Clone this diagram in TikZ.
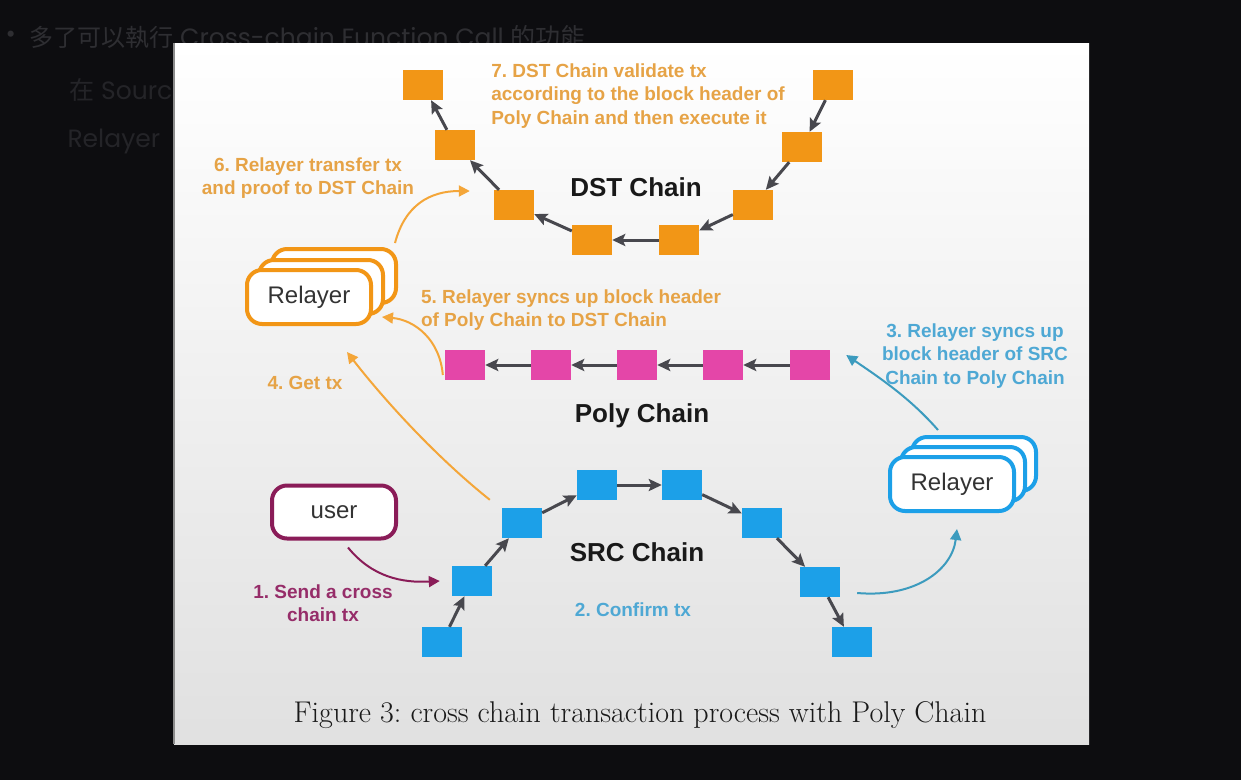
\documentclass[tikz,border=0pt]{standalone}
\usepackage{fontspec}
\newfontfamily\arial{Liberation Sans}
\newfontfamily\slidefont{Poppins}
\newfontfamily\cjk{Noto Sans CJK TC}
\usetikzlibrary{arrows.meta}
\frenchspacing
\begin{document}
\begin{tikzpicture}[x=1pt, y=-1pt, >={Stealth[length=13pt, width=12pt, inset=2.5pt]}]
    % Define Colors matching the screenshot
    \definecolor{slidebg}{RGB}{13, 13, 16}
    \definecolor{slidetext}{RGB}{46, 46, 50}
    \definecolor{slidetextdim}{RGB}{36, 36, 40}
    \definecolor{dstcolor}{RGB}{242, 150, 22}   % Orange blocks
    \definecolor{dsttext}{RGB}{230, 163, 70}    % Orange notes
    \definecolor{polycolor}{RGB}{228, 70, 168}  % Pink blocks
    \definecolor{srccolor}{RGB}{28, 160, 232}   % Blue blocks
    \definecolor{srctext}{RGB}{78, 168, 212}    % Blue notes
    \definecolor{srcarrow}{RGB}{60, 155, 190}
    \definecolor{usercolor}{RGB}{138, 28, 88}   % Purple
    \definecolor{usertext}{RGB}{150, 45, 105}
    \definecolor{linkcolor}{RGB}{72, 72, 78}

    \tikzset{
        block/.style={rectangle, minimum width=40pt, minimum height=30pt, inner sep=0pt},
        link/.style={->, linkcolor, line width=3pt},
        flow/.style={-{Triangle[length=11pt, width=11pt]}, line width=2pt},
        relaybox/.style={rectangle, rounded corners=15pt, line width=4pt, fill=white,
            minimum width=124pt, minimum height=54pt, text=black!80,
            font=\arial\fontsize{24}{28}\selectfont},
        chaintitle/.style={font=\arial\bfseries\fontsize{26}{30}\selectfont, text=black!90},
        stepnote/.style={font=\arial\bfseries\fontsize{19}{23.5}\selectfont},
        slideline/.style={anchor=west, font=\slidefont\fontsize{25}{28}\selectfont}
    }

    \useasboundingbox (0,0) rectangle (1241,780);

    % Slide background and text behind the figure
    \fill[slidebg] (0,0) rectangle (1241,780);
    \node[slideline, text=slidetext] (bullet) at (2,37) {•};
    \node[slideline, text=slidetext] (line1) at (26,37)
        {{\cjk\fontsize{24}{28}\selectfont 多了可以執行} Cross-chain Function Call {\cjk 的功能}};
    \node[slideline, text=slidetextdim] (line2) at (66,90) {{\cjk 在} Source};
    \node[slideline, text=slidetextdim] (line3) at (64,141) {Relayer};

    % Figure panel
    \shade[top color=white, middle color=white, bottom color=black!12]
        (174,43) rectangle (1089,744);
    \draw[black!45, line width=1.5pt] (174,43) -- (174,744);

    % --- DST CHAIN ---
    \foreach \name/\px/\py in {dst1/423/85, dst2/455/145, dst3/514/205, dst4/592/240,
                               dst5/679/240, dst6/753/205, dst7/802/147, dst8/833/85} {
            \node[block, fill=dstcolor] (\name) at (\px,\py) {};
        }
    \foreach \a/\b in {dst8/dst7, dst7/dst6, dst6/dst5, dst5/dst4, dst4/dst3, dst3/dst2, dst2/dst1} {
            \draw[link] (\a) -- (\b);
        }
    \node[chaintitle] (dsttitle) at (636,187) {DST Chain};

    % --- POLY CHAIN ---
    \foreach \name/\px in {poly1/465, poly2/551, poly3/637, poly4/723, poly5/810} {
            \node[block, fill=polycolor] (\name) at (\px,365) {};
        }
    \foreach \a/\b in {poly5/poly4, poly4/poly3, poly3/poly2, poly2/poly1} {
            \draw[link] (\a) -- (\b);
        }
    \node[chaintitle] (polytitle) at (642,416) {Poly Chain};

    % --- SRC CHAIN ---
    \foreach \name/\px/\py in {src1/442/642, src2/472/581, src3/522/523, src4/597/485,
                               src5/682/485, src6/762/523, src7/820/582, src8/852/642} {
            \node[block, fill=srccolor] (\name) at (\px,\py) {};
        }
    \foreach \a/\b in {src1/src2, src2/src3, src3/src4, src4/src5, src5/src6, src6/src7, src7/src8} {
            \draw[link] (\a) -- (\b);
        }
    \node[chaintitle] (srctitle) at (637,552) {SRC Chain};

    % --- RELAYERS AND USER ---
    \node[relaybox, draw=dstcolor] (relayLc) at (334,276) {};
    \node[relaybox, draw=dstcolor] (relayLb) at (321,287) {};
    \node[relaybox, draw=dstcolor] (relayL) at (309,297) {Relayer};

    \node[relaybox, draw=srccolor] (relayRc) at (974,464) {};
    \node[relaybox, draw=srccolor] (relayRb) at (963,474) {};
    \node[relaybox, draw=srccolor] (relayR) at (952,484) {Relayer};

    \node[relaybox, draw=usercolor, minimum height=53pt] (user) at (334,512) {user};

    % --- PROCESS STEPS ---
    % 1. user -> SRC chain
    \draw[flow, usercolor] ([xshift=14pt, yshift=-7pt]user.south)
        .. controls (372,577) and (402,583) .. ([xshift=-12pt]src2.west);
    \node[stepnote, text=usertext, align=center] (note1) at (323,603) {1. Send a cross\\chain tx};

    % 2. SRC chain -> right relayer
    \draw[flow, srcarrow] ([xshift=17pt, yshift=-11pt]src7.east)
        .. controls (915,598) and (952,570) .. ([xshift=5pt, yshift=-16pt]relayR.south);
    \node[stepnote, text=srctext] (note2) at (633,610) {2. Confirm tx};

    % 3. right relayer -> Poly chain
    \draw[flow, srcarrow] ([xshift=-36pt, yshift=5pt]relayRc.north)
        .. controls (910,398) and (880,378) .. ([xshift=16pt, yshift=10pt]poly5.east);
    \node[stepnote, text=srctext, align=center] (note3) at (975,356)
        {3. Relayer syncs up\\block header of SRC\\Chain to Poly Chain};

    % 4. left relayer gets tx from SRC chain
    \draw[flow, dstcolor!85] ([xshift=-12pt, yshift=8pt]src3.north west)
        .. controls (430,452) and (378,392) .. ([xshift=38pt, yshift=-26pt]relayL.south);
    \node[stepnote, text=dsttext] (note4) at (305,383) {4. Get tx};

    % 5. Poly chain -> left relayer
    \draw[flow, dstcolor!85] ([xshift=-2pt, yshift=-10pt]poly1.west)
        .. controls (440,340) and (415,320) .. ([xshift=9pt, yshift=9pt]relayL.south east);
    \node[stepnote, text=dsttext, align=left] (note5) at (571,310)
        {5. Relayer syncs up block header\\of Poly Chain to DST Chain};

    % 6. left relayer -> DST chain
    \draw[flow, dstcolor!85] ([xshift=-3pt, yshift=4pt]relayLc.north east)
        .. controls (405,205) and (430,191) .. ([xshift=-24pt, yshift=14pt]dst3.west);
    \node[stepnote, text=dsttext, align=center] (note6) at (308,178)
        {6. Relayer transfer tx\\and proof to DST Chain};

    % 7. DST chain validates
    \node[stepnote, text=dsttext, align=left] (note7) at (638,96)
        {7. DST Chain validate tx\\according to the block header of\\Poly Chain and then execute it};

    % Caption
    \node[font=\fontsize{30}{34}\selectfont, text=black!90] (caption) at (640,715)
        {Figure 3: cross chain transaction process with Poly Chain};
\end{tikzpicture}
\end{document}
